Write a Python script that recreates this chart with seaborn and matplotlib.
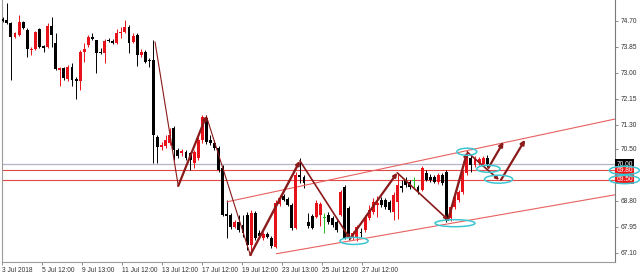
import numpy as np
import pandas as pd
import seaborn as sns
import matplotlib
matplotlib.use("Agg")
import matplotlib.pyplot as plt
from matplotlib.patches import Ellipse
from matplotlib.transforms import blended_transform_factory

# ---------------- data ----------------
opens = [74.76, 74.72, 74.63, 74.17, 74.23, 74.66, 74.40, 73.74, 73.78, 74.43,
         73.87, 73.84, 74.53, 73.97, 73.09, 73.15, 72.79, 73.18, 72.79, 72.73,
         73.68, 73.90, 74.17, 74.07, 73.68, 73.64, 74.07, 74.04, 73.97, 74.30,
         74.33, 74.49, 74.00, 74.23, 73.58, 73.68, 73.41, 73.41, 70.89, 70.57,
         70.60, 70.70, 71.19, 70.47, 70.37, 70.40, 70.37, 70.04, 70.21, 70.80,
         71.52, 70.80, 70.70, 70.53, 69.88, 68.38, 68.34, 67.95, 68.11, 68.02,
         68.34, 67.36, 68.41, 67.75, 67.59, 67.72, 67.59, 67.30, 68.70, 68.96,
         68.87, 68.67, 67.92, 69.65, 69.59, 68.11, 68.31, 68.28, 68.34, 68.24,
         68.34, 68.24, 68.11, 68.34, 69.26, 68.57, 67.59, 67.62, 67.79, 67.85,
         68.24, 68.44, 68.67, 68.83, 68.83, 68.77, 68.44, 68.77, 69.29, 69.49,
         69.42, 69.45, 69.26, 69.16, 69.72, 69.59, 69.59, 69.42, 69.65, 69.75,
         68.24, 68.61, 68.83, 69.09, 69.72, 70.21, 69.98, 70.04, 70.01, 70.21]
highs = [74.82, 75.28, 74.66, 74.33, 74.89, 74.69, 74.46, 73.84, 74.36, 74.46,
         73.90, 74.63, 74.82, 74.30, 73.18, 73.18, 73.25, 73.32, 72.86, 73.74,
         73.97, 74.23, 74.30, 74.07, 73.81, 74.10, 74.13, 74.10, 74.43, 74.49,
         74.72, 74.56, 74.30, 74.30, 73.77, 73.74, 73.48, 74.07, 70.96, 70.73,
         70.96, 71.19, 71.25, 70.53, 70.50, 70.47, 70.40, 70.47, 70.93, 71.61,
         71.61, 70.96, 70.80, 70.60, 69.98, 68.83, 68.41, 68.18, 68.34, 68.34,
         68.44, 68.51, 68.47, 67.85, 67.79, 67.79, 67.66, 68.83, 69.00, 69.03,
         68.93, 68.74, 69.75, 70.21, 69.65, 68.41, 68.38, 68.83, 68.77, 68.41,
         68.44, 68.31, 68.18, 69.16, 69.32, 68.64, 67.82, 68.02, 67.92, 68.34,
         68.67, 68.90, 68.96, 68.93, 68.90, 68.83, 69.09, 69.68, 69.49, 69.59,
         69.49, 69.59, 69.32, 69.95, 69.81, 69.68, 69.65, 69.72, 69.72, 69.81,
         68.67, 69.00, 69.16, 69.81, 70.47, 70.30, 70.27, 70.24, 70.27, 70.30]
lows = [74.66, 74.59, 72.76, 74.13, 74.20, 74.43, 73.51, 73.58, 73.74, 73.82,
        73.68, 73.81, 73.84, 73.09, 72.56, 72.76, 72.73, 72.56, 72.14, 72.43,
        73.35, 73.84, 74.07, 72.99, 73.62, 73.32, 74.00, 73.94, 73.94, 74.13,
        74.30, 73.64, 73.97, 73.22, 73.51, 73.32, 73.18, 70.04, 70.04, 70.47,
        70.53, 70.63, 70.14, 70.21, 70.27, 70.14, 69.81, 69.88, 70.14, 70.70,
        70.67, 70.63, 70.47, 69.75, 68.31, 67.59, 67.89, 67.92, 67.79, 67.62,
        67.20, 67.03, 67.53, 67.59, 67.53, 67.59, 67.26, 67.26, 68.64, 68.80,
        68.64, 67.85, 67.89, 69.39, 69.23, 67.92, 67.89, 68.24, 67.98, 67.75,
        68.05, 67.95, 67.79, 68.31, 67.56, 67.53, 67.53, 67.49, 67.62, 67.79,
        68.18, 68.38, 68.28, 68.61, 68.54, 68.44, 68.18, 68.21, 69.09, 69.26,
        69.19, 69.23, 69.03, 69.13, 69.45, 69.42, 69.39, 69.36, 69.32, 68.11,
        68.15, 68.54, 68.77, 69.03, 69.65, 69.75, 69.91, 69.98, 69.98, 69.91]
closes = [74.69, 74.63, 74.17, 74.30, 74.66, 74.46, 73.77, 73.78, 74.33, 73.84,
          73.82, 74.53, 74.23, 73.12, 73.15, 72.83, 73.18, 72.76, 72.73, 73.68,
          73.77, 74.17, 74.10, 73.64, 73.64, 74.04, 74.04, 73.97, 74.30, 74.33,
          74.49, 73.97, 74.20, 73.58, 73.68, 73.35, 73.38, 70.96, 70.57, 70.63,
          70.80, 70.96, 70.47, 70.27, 70.44, 70.21, 70.14, 70.40, 70.80, 71.55,
          70.73, 70.70, 70.53, 69.81, 68.34, 68.31, 67.95, 68.11, 67.85, 67.75,
          67.36, 68.41, 67.59, 67.66, 67.72, 67.62, 67.33, 68.74, 68.90, 68.83,
          68.67, 67.92, 69.65, 69.59, 69.39, 67.98, 67.92, 68.74, 68.70, 68.24,
          68.11, 68.02, 67.85, 69.09, 67.59, 67.62, 67.75, 67.95, 67.75, 68.28,
          68.51, 68.77, 68.74, 68.67, 68.61, 68.51, 69.00, 69.32, 69.23, 69.32,
          69.26, 69.45, 69.09, 69.88, 69.49, 69.49, 69.42, 69.65, 69.39, 68.18,
          68.61, 68.93, 69.09, 69.75, 70.30, 69.98, 70.21, 70.18, 70.21, 70.00]

# x-axis labels (bar positions where the terminal prints them)
tick_pos = [-0.2, 9.7, 19.5, 29.3, 39.1, 49.0, 58.8, 68.6, 78.5, 88.3]
tick_labels = ["3 Jul 2018", "5 Jul 12:00", "9 Jul 13:00", "11 Jul 12:00",
               "13 Jul 12:00", "17 Jul 12:00", "19 Jul 12:00", "23 Jul 13:00",
               "25 Jul 12:00", "27 Jul 12:00"]
price_ticks = [74.70, 73.85, 73.00, 72.15, 71.30, 70.50, 68.80, 67.95, 67.10]
price_tick_labels = ["74.70", "73.85", "73.00", "72.15", "71.30", "70.50",
                     "68.80", "67.95", "67.10"]

# horizontal levels
last_price = 70.00
levels = [69.80, 69.50]

# zigzag (bar index, price)
zz_x = [37.4, 43.1, 50.0, 60.8, 73.0, 85.3, 96.9, 109.4, 114.1, 121.9]
zz_y = [74.00, 69.29, 71.58, 67.03, 70.11, 67.56, 69.72, 68.18, 70.40, 69.49]
zz_lw = [0.8, 1.6, 0.8, 1.7, 1.2, 1.6, 1.2, 1.7, 1.2]
zz_head = [False, True, False, True, True, True, True, True, True]
# projected arrows
proj_start_x = [119.3, 122.4]
proj_start_y = [69.88, 69.49]
proj_end_x = [123.0, 128.3]
proj_end_y = [70.73, 70.80]

# channel lines (bar index, price)
up_chan_x = [55.1, 150.4]
up_chan_y = [68.77, 71.48]
lo_chan_x = [67.2, 150.4]
lo_chan_y = [67.07, 69.00]

# cyan ellipses: centre x, centre y, width (bars), height (price)
ell_x = [114.0, 119.3, 121.8, 111.1, 86.3]
ell_y = [70.41, 69.85, 69.51, 68.07, 67.49]
ell_w = [4.9, 5.7, 6.9, 9.8, 6.9]
ell_h = [0.23, 0.23, 0.26, 0.23, 0.23]

# ---------------- drawing ----------------
sns.set_theme(style="white")
plt.rcParams["font.family"] = ["Liberation Sans", "DejaVu Sans"]

df = pd.DataFrame({"open": opens, "high": highs, "low": lows, "close": closes})
df["x"] = np.arange(len(df))
RED = "#e8121a"
BLACK = "#000000"
GREEN = "#22c022"
def col(r):
    if r.close > r.open:
        return RED
    if r.close < r.open:
        return BLACK
    return GREEN
df["color"] = df.apply(col, axis=1)

fig = plt.figure(figsize=(6.4, 2.78), dpi=100)
ax = fig.add_axes([2 / 640, 16 / 278, 613 / 640, 262 / 278])
ax.set_xlim(-0.17, 150.4)
ax.set_ylim(66.80, 75.377)

# levels
ax.axhline(last_price, color="#b4b4c8", lw=0.9, zorder=1)
for lv in levels:
    ax.axhline(lv, color="#e04848", lw=0.8, zorder=1)

# candles
ax.vlines(df["x"], df["low"], df["high"], colors=df["color"], lw=0.7, zorder=2)
body_bottom = np.minimum(df["open"], df["close"])
body_h = np.maximum(np.abs(df["close"] - df["open"]), 0.02)
ax.bar(df["x"], body_h, bottom=body_bottom, width=0.72, color=df["color"],
       linewidth=0, zorder=3)

# channel
ax.plot(up_chan_x, up_chan_y, color="#e86060", lw=0.8, zorder=2)
ax.plot(lo_chan_x, lo_chan_y, color="#e86060", lw=0.8, zorder=2)

# zigzag arrows
ZZ = "#8b1a1a"
for k in range(len(zz_x) - 1):
    style = "-|>" if zz_head[k] else "-"
    ax.annotate("", xy=(zz_x[k + 1], zz_y[k + 1]), xytext=(zz_x[k], zz_y[k]),
                arrowprops=dict(arrowstyle=style, color=ZZ, lw=zz_lw[k],
                                mutation_scale=5, shrinkA=0, shrinkB=0),
                zorder=5)
for sx, sy, ex, ey in zip(proj_start_x, proj_start_y, proj_end_x, proj_end_y):
    ax.annotate("", xy=(ex, ey), xytext=(sx, sy),
                arrowprops=dict(arrowstyle="-|>", color=ZZ, lw=1.6,
                                mutation_scale=6, shrinkA=0, shrinkB=0),
                zorder=5)

CYAN = "#3cc6d2"
for cx, cy, w, h in zip(ell_x, ell_y, ell_w, ell_h):
    ax.add_patch(Ellipse((cx, cy), w, h, fill=False, ec=CYAN, lw=1.1, zorder=6))

# axes styling
ax.spines["top"].set_visible(False)
ax.spines["left"].set_color("#9a9a9a")
ax.spines["bottom"].set_color("#9a9a9a")
ax.spines["right"].set_color("#7a7a7a")
for s in ["left", "bottom", "right"]:
    ax.spines[s].set_linewidth(0.8)

ax.yaxis.tick_right()
ax.set_yticks(price_ticks)
ax.set_yticklabels(price_tick_labels)
ax.set_xticks(tick_pos)
ax.set_xticklabels(tick_labels)
ax.tick_params(axis="y", which="both", right=True, left=False, length=2,
               width=0.6, color="#7a7a7a", labelsize=4.8, pad=2,
               labelcolor="#333333")
ax.tick_params(axis="x", which="both", bottom=True, length=2, width=0.6,
               color="#7a7a7a", labelsize=4.8, pad=1.5, labelcolor="#333333")
for lbl in ax.get_xticklabels():
    lbl.set_horizontalalignment("left")
ax.set_xlabel("")
ax.set_ylabel("")
ax.grid(False)

# price boxes on the right scale
tr = blended_transform_factory(ax.transAxes, ax.transData)
ax.text(1.002, last_price, f"{last_price:.2f}", transform=tr, ha="left",
        va="center", fontsize=4.8, color="white", zorder=7,
        bbox=dict(boxstyle="square,pad=0.2", fc="black", ec="none"))
for lv in levels:
    ax.text(1.002, lv, f"{lv:.2f}", transform=tr, ha="left", va="center",
            fontsize=4.8, color="white", zorder=7,
            bbox=dict(boxstyle="square,pad=0.2", fc="#f01818", ec="none"))
    ax.add_patch(Ellipse((152.7, lv), 7.4, 0.27, fill=False, ec=CYAN, lw=1.1,
                         clip_on=False, zorder=8))

fig.savefig("out.png", dpi=100)
